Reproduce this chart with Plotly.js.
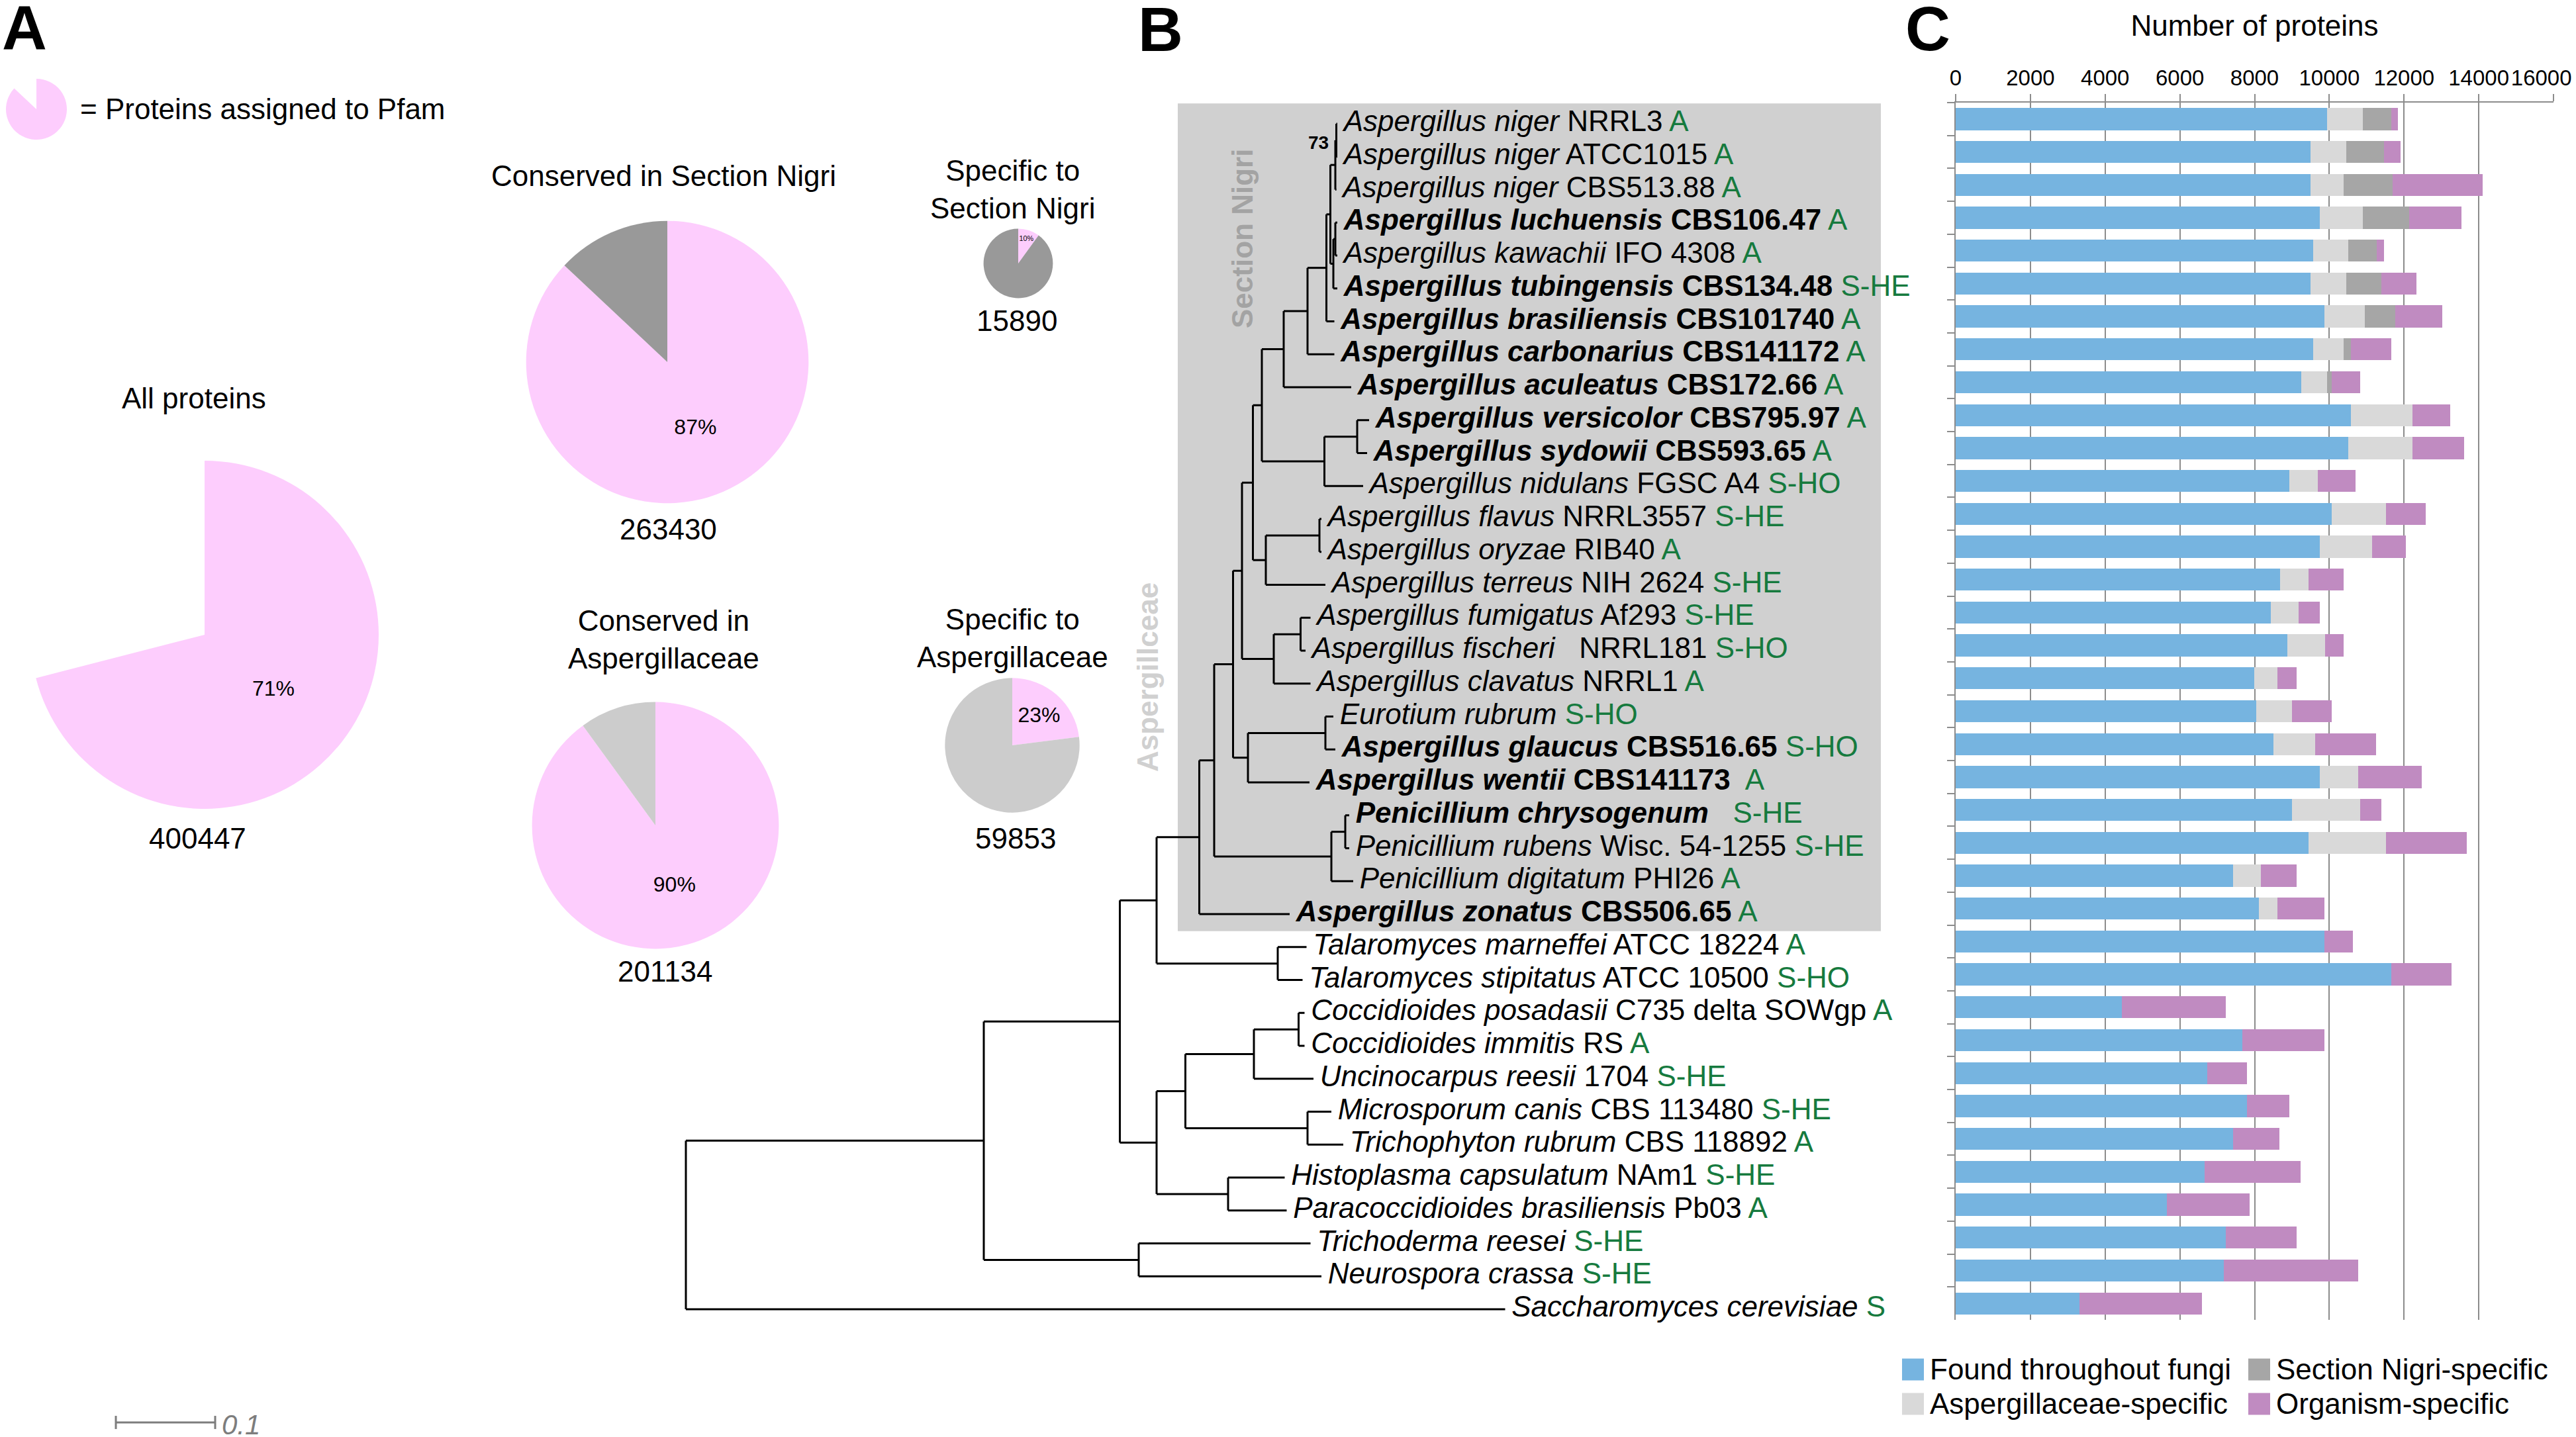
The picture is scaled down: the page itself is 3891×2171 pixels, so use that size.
<!DOCTYPE html>
<html>
<head>
<meta charset="utf-8">
<script src="https://cdn.plot.ly/plotly-3.0.1.min.js"></script>
<style>html,body{margin:0;padding:0;background:#fff;}#chart{width:3891px;height:2171px;}</style>
</head>
<body>
<div id="chart"></div>
<script>
// ================= DATA =================
const species = ['Aspergillus niger','Aspergillus niger','Aspergillus niger','Aspergillus luchuensis','Aspergillus kawachii','Aspergillus tubingensis','Aspergillus brasiliensis','Aspergillus carbonarius','Aspergillus aculeatus','Aspergillus versicolor','Aspergillus sydowii','Aspergillus nidulans','Aspergillus flavus','Aspergillus oryzae','Aspergillus terreus','Aspergillus fumigatus','Aspergillus fischeri','Aspergillus clavatus','Eurotium rubrum','Aspergillus glaucus','Aspergillus wentii','Penicillium chrysogenum','Penicillium rubens','Penicillium digitatum','Aspergillus zonatus','Talaromyces marneffei','Talaromyces stipitatus','Coccidioides posadasii','Coccidioides immitis','Uncinocarpus reesii','Microsporum canis','Trichophyton rubrum','Histoplasma capsulatum','Paracoccidioides brasiliensis','Trichoderma reesei','Neurospora crassa','Saccharomyces cerevisiae'];
const strains = ['NRRL3','ATCC1015','CBS513.88','CBS106.47','IFO 4308','CBS134.48','CBS101740','CBS141172','CBS172.66','CBS795.97','CBS593.65','FGSC A4','NRRL3557','RIB40','NIH 2624','Af293','\u00a0\u00a0NRRL181','NRRL1','','CBS516.65','CBS141173\u00a0','\u00a0','Wisc. 54-1255','PHI26','CBS506.65','ATCC 18224','ATCC 10500','C735 delta SOWgp','RS','1704','CBS 113480','CBS 118892','NAm1','Pb03','','',''];
const lifestyles = ['A','A','A','A','A','S-HE','A','A','A','A','A','S-HO','S-HE','A','S-HE','S-HE','S-HO','A','S-HO','S-HO','A','S-HE','S-HE','A','A','A','S-HO','A','A','S-HE','S-HE','A','S-HE','A','S-HE','S-HE','S'];
const boldTaxa = [0,0,0,1,0,1,1,1,1,1,1,0,0,0,0,0,0,0,0,1,1,1,0,0,1,0,0,0,0,0,0,0,0,0,0,0,0];

// Panel C: number of proteins per category
const foundThroughoutFungi   = [9940,9490,9490,9750,9560,9490,9870,9560,9250,10580,10510,8930,10060,9750,8680,8430,8870,7990,8050,8500,9750,9000,9440,7420,8120,9870,11650,4450,7670,6730,7800,7420,6660,5660,7230,7170,3320];
const aspergillaceaeSpecific = [950,960,890,1140,950,960,1080,830,690,1640,1710,760,1450,1390,760,750,1010,630,950,1130,1020,1820,2080,750,500,0,0,0,0,0,0,0,0,0,0,0,0];
const nigriSpecific          = [760,1010,1320,1250,760,940,820,190,120,0,0,0,0,0,0,0,0,0,0,0,0,0,0,0,0,0,0,0,0,0,0,0,0,0,0,0,0];
const organismSpecific       = [190,440,2400,1400,190,950,1260,1070,760,1010,1390,1010,1070,900,950,570,510,500,1060,1630,1700,570,2150,950,1250,760,1630,2780,2200,1070,1130,1250,2580,2200,1890,3600,3280];
const xTickVals = [0,2000,4000,6000,8000,10000,12000,14000,16000];
const seriesNames = ['Found throughout fungi','Aspergillaceae-specific','Section Nigri-specific','Organism-specific'];

// Panel A: pies
const pieTitles = ['All proteins','Conserved in Section Nigri','Specific to<br>Section Nigri','Conserved in<br>Aspergillaceae','Specific to<br>Aspergillaceae'];
const pieTotals = [400447,263430,15890,201134,59853];
const piePfamPct = [71,87,10,90,23];
const legendIconPct = 87;

// Panel B: tree (internal nodes and leaves, branch lengths in substitutions/site)
const nodeIds     = ['R','P','S','E','ET','T','A','A2','Pen','CR','A3','G','EG','A4','F','FF','A5','Fl','FO','A6','N0','N1','N2','N3','Ng','NA','L','LK','Nd','VS','OA','O','On','Cocc','Ar','Aj'];
const nodeParents = ['','R','P','P','E','ET','ET','A','A2','Pen','A2','A3','G','A3','A4','F','A4','A5','Fl','A5','A6','N0','N1','N2','N3','Ng','N3','L','A6','Nd','E','OA','O','On','O','OA'];
const nodeLengths = [0,0.300,0.156,0.137,0.037,0.122,0.043,0.015,0.118,0.014,0.019,0.015,0.078,0.009,0.032,0.027,0.011,0.013,0.054,0.009,0.022,0.024,0.019,0.004,0.005,0.001,0.003,0.002,0.063,0.033,0.037,0.029,0.069,0.045,0.123,0.072];
const leafParents = ['NA','NA','Ng','LK','LK','L','N2','N1','N0','VS','VS','Nd','FO','FO','Fl','FF','FF','F','EG','EG','G','CR','CR','Pen','A','T','T','Cocc','Cocc','On','Ar','Ar','Aj','Aj','S','S','R'];
const leafLengths = [0.001,0.001,0.001,0.002,0.002,0.004,0.008,0.027,0.068,0.012,0.010,0.039,0.002,0.002,0.060,0.010,0.005,0.037,0.008,0.010,0.062,0.004,0.004,0.022,0.091,0.029,0.025,0.006,0.006,0.060,0.024,0.036,0.057,0.059,0.173,0.184,0.825];
const nodeSupport = {NA: 73};
const scaleBarLength = 0.1;

// ================= STYLE / LAYOUT CONSTANTS =================
const W = 3891, H = 2171;
const FONT = 'Liberation Sans, Arial, Helvetica, sans-serif';
const PINK = '#fdcdfd', GREEN = '#167a3e';
const BAR_COLORS = ['#76b4e0','#d9d9d9','#a6a6a6','#c08bc1'];
const AXIS_GREY = '#8c8c8c';
const TREE_ROOT_PX = 1036, TREE_PX_PER_UNIT = 1500, ROW0_PX = 187, ROW_PX = 49.75;
const px = x => x / W, py = y => 1 - y / H;

// ================= TREE LAYOUT =================
const parentOf = {}, lenOf = {}, children = {};
nodeIds.forEach((id, i) => { parentOf[id] = nodeParents[i]; lenOf[id] = nodeLengths[i]; });
species.forEach((s, i) => { parentOf['leaf' + i] = leafParents[i]; lenOf['leaf' + i] = leafLengths[i]; });
Object.keys(parentOf).forEach(id => { const p = parentOf[id]; if (p) (children[p] = children[p] || []).push(id); });
const X = {}, Y = {};
(function setX(id, x) { X[id] = x; (children[id] || []).forEach(c => setX(c, x + lenOf[c])); })('R', 0);
(function setY(id) {
  if (id.startsWith('leaf')) return (Y[id] = +id.slice(4));
  const ys = children[id].map(setY);
  return (Y[id] = (Math.min(...ys) + Math.max(...ys)) / 2);
})('R');
const tx = [], ty = [];
Object.keys(parentOf).forEach(id => {
  const p = parentOf[id];
  if (p) { tx.push(X[p], X[id], null); ty.push(Y[id], Y[id], null); }
  if (children[id]) {
    const ys = children[id].map(c => Y[c]);
    tx.push(X[id], X[id], null); ty.push(Math.min(...ys), Math.max(...ys), null);
  }
});

const traces = [];
traces.push({type:'scatter', mode:'lines', x:tx, y:ty, xaxis:'x', yaxis:'y',
  line:{color:'#000', width:3}, hoverinfo:'skip', showlegend:false});

// leaf labels
const labelHtml = species.map((s, i) => {
  const core = `<i>${s}</i>${strains[i] ? ' ' + strains[i] : ''}`;
  const main = boldTaxa[i] ? `<b>${core}</b>` : core;
  return `${main} <span style="color:${GREEN}">${lifestyles[i]}</span>`;
});
traces.push({type:'scatter', mode:'markers+text', xaxis:'x', yaxis:'y',
  x: species.map((s, i) => X['leaf' + i]), y: species.map((s, i) => i),
  text: labelHtml, textposition:'middle right', cliponaxis:false,
  marker:{size:14, color:'rgba(0,0,0,0)'}, textfont:{size:44, color:'#000', family:FONT},
  hoverinfo:'skip', showlegend:false});

// scale bar
const sbX0 = (175 - TREE_ROOT_PX) / TREE_PX_PER_UNIT, sbY = (2149 - ROW0_PX) / ROW_PX, sbT = 0.2;
traces.push({type:'scatter', mode:'lines', xaxis:'x', yaxis:'y',
  x:[sbX0, sbX0 + scaleBarLength, null, sbX0, sbX0, null, sbX0 + scaleBarLength, sbX0 + scaleBarLength],
  y:[sbY, sbY, null, sbY - sbT, sbY + sbT, null, sbY - sbT, sbY + sbT],
  line:{color:'#7d7d7d', width:3}, hoverinfo:'skip', showlegend:false});

// ================= BARS =================
const cats = species.map((s, i) => s + ' ' + strains[i] + ' #' + i);
[foundThroughoutFungi, aspergillaceaeSpecific, nigriSpecific, organismSpecific].forEach((vals, k) => {
  traces.push({type:'bar', orientation:'h', xaxis:'x2', yaxis:'y2', x: vals, y: cats,
    name: seriesNames[k], marker:{color: BAR_COLORS[k], line:{width:0}},
    showlegend:false, hoverinfo:'skip'});
});

// ================= PIES =================
const pieCenters = [[309,959],[1008,547],[1538,398],[990,1247],[1529,1126]];
const R_MAX = 263;
const pieOther = ['rgba(0,0,0,0)','#999999','#999999','#cccccc','#cccccc'];
pieTotals.forEach((t, i) => {
  const r = R_MAX * Math.sqrt(t / pieTotals[0]);
  const [cx, cy] = pieCenters[i];
  traces.push({type:'pie', values:[piePfamPct[i], 100 - piePfamPct[i]], labels:['Pfam','Other'],
    sort:false, direction:'clockwise', rotation:0,
    marker:{colors:[PINK, pieOther[i]], line:{width:0}},
    text:[piePfamPct[i] + '%', ''], textinfo:'text',
    textposition:['inside','none'],
    insidetextorientation:'horizontal',
    insidetextfont:{size: i === 2 ? 20 : 32, color:'#000', family:FONT},
    domain:{x:[px(cx - r), px(cx + r)], y:[py(cy + r), py(cy - r)]},
    showlegend:false, hoverinfo:'skip'});
});
// legend icon pie
(function(){
  const cx = 55, cy = 165, r = 46;
  traces.push({type:'pie', values:[legendIconPct, 100 - legendIconPct], labels:['Pfam','Other'],
    sort:false, direction:'clockwise', rotation:0, marker:{colors:[PINK,'rgba(0,0,0,0)']},
    textinfo:'none', domain:{x:[px(cx - r), px(cx + r)], y:[py(cy + r), py(cy - r)]},
    showlegend:false, hoverinfo:'skip'});
})();

// ================= ANNOTATIONS =================
const ann = (text, x, y, o = {}) => Object.assign({text, x: px(x), y: py(y), xref:'paper', yref:'paper',
  showarrow:false, xanchor:'center', yanchor:'middle', font:{size:44, color:'#000', family:FONT}}, o);
const letterFont = {size:94, family:FONT, color:'#000'};
const annotations = [
  ann('<b>A</b>', 37, 42, {font:letterFont, height:84, valign:'middle'}),
  ann('<b>B</b>', 1753, 44, {font:letterFont, height:84, valign:'middle'}),
  ann('<b>C</b>', 2912, 43, {font:letterFont, height:84, valign:'middle'}),
  ann('= Proteins assigned to Pfam', 119, 164, {xanchor:'left'}),
  ann('<b>Section Nigri</b>', 1877, 361, {textangle:-90, font:{size:44, color:'#a3a3a3', family:FONT}}),
  ann('<b>Aspergillceae</b>', 1733, 1023, {textangle:-90, font:{size:44, color:'#d0d0d0', family:FONT}}),
  ann('<i>0.1</i>', 333, 2152, {xanchor:'left', font:{size:42, color:'#7d7d7d', family:FONT}})
];
const titlePos = [[293,601],[1002,265],[1529,286],[1002,966],[1529,964]];
const totalPos = [[298,1266],[1009,799],[1536,485],[1005,1467],[1534,1266]];
pieTitles.forEach((t, i) => annotations.push(ann(t, titlePos[i][0], titlePos[i][1])));
pieTotals.forEach((t, i) => annotations.push(ann(String(t), totalPos[i][0], totalPos[i][1])));
Object.keys(nodeSupport).forEach(id => annotations.push({text:'<b>' + nodeSupport[id] + '</b>', x:X[id], y:Y[id],
  xref:'x', yref:'y', showarrow:false, xanchor:'right', yanchor:'middle', xshift:-10, yshift:-4,
  font:{size:28, color:'#000', family:FONT}}));

// legend for panel C (2 x 2 grid: column-major)
const shapes = [{type:'rect', layer:'below', xref:'paper', yref:'y', x0:px(1779), x1:px(2841), y0:-0.62, y1:24.52,
  fillcolor:'#d0d0d0', line:{width:0}}];
const legendColX = [2873, 3396], legendRowY = [2068, 2120], SW = 33;
const legendSlot = [[0,0],[0,1],[1,0],[1,1]]; // [col,row] for each series
seriesNames.forEach((name, k) => {
  const [c, r] = legendSlot[k];
  const x0 = legendColX[c], yc = legendRowY[r];
  shapes.push({type:'rect', xref:'paper', yref:'paper', x0:px(x0), x1:px(x0 + SW), y0:py(yc + SW / 2 + 1), y1:py(yc - SW / 2 + 1),
    fillcolor:BAR_COLORS[k], line:{width:0}});
  annotations.push(ann(name, x0 + SW + 7, yc, {xanchor:'left'}));
});

// ================= LAYOUT =================
const layout = {
  width: W, height: H, margin:{l:0, r:0, t:0, b:0, pad:0},
  paper_bgcolor:'#ffffff', plot_bgcolor:'rgba(0,0,0,0)',
  font:{family:FONT, size:44, color:'#000'},
  hovermode:false, barmode:'stack', bargap:0.33, showlegend:false,
  xaxis:{domain:[0,1], range:[-TREE_ROOT_PX / TREE_PX_PER_UNIT, (W - TREE_ROOT_PX) / TREE_PX_PER_UNIT], visible:false, fixedrange:true},
  yaxis:{domain:[0,1], range:[(H - ROW0_PX) / ROW_PX, -ROW0_PX / ROW_PX], visible:false, fixedrange:true},
  xaxis2:{domain:[px(2954), px(3857)], anchor:'y2', side:'top', range:[0,16000],
    tickvals:xTickVals, ticktext:xTickVals.map((v, i) => i === xTickVals.length - 1 ? v + '\u00a0\u00a0\u00a0\u00a0' : String(v)),
    tickangle:0, ticklabeloverflow:'allow',
    tickfont:{size:33, family:FONT, color:'#000'}, ticks:'outside', ticklen:11, tickwidth:2, tickcolor:AXIS_GREY,
    showgrid:true, gridcolor:AXIS_GREY, gridwidth:2, showline:true, linecolor:AXIS_GREY, linewidth:2, zeroline:false,
    title:{text:'Number of proteins', font:{size:44, family:FONT, color:'#000'}, standoff:30}, fixedrange:true},
  yaxis2:{domain:[py(1994), py(155)], anchor:'x2', type:'category', autorange:'reversed',
    showticklabels:false, ticks:'outside', tickson:'boundaries', ticklen:11, tickwidth:2, tickcolor:AXIS_GREY,
    showline:true, linecolor:AXIS_GREY, linewidth:2, showgrid:false, zeroline:false, fixedrange:true},
  shapes,
  annotations
};

Plotly.newPlot('chart', traces, layout, {displayModeBar:false, staticPlot:true});
</script>
</body>
</html>
